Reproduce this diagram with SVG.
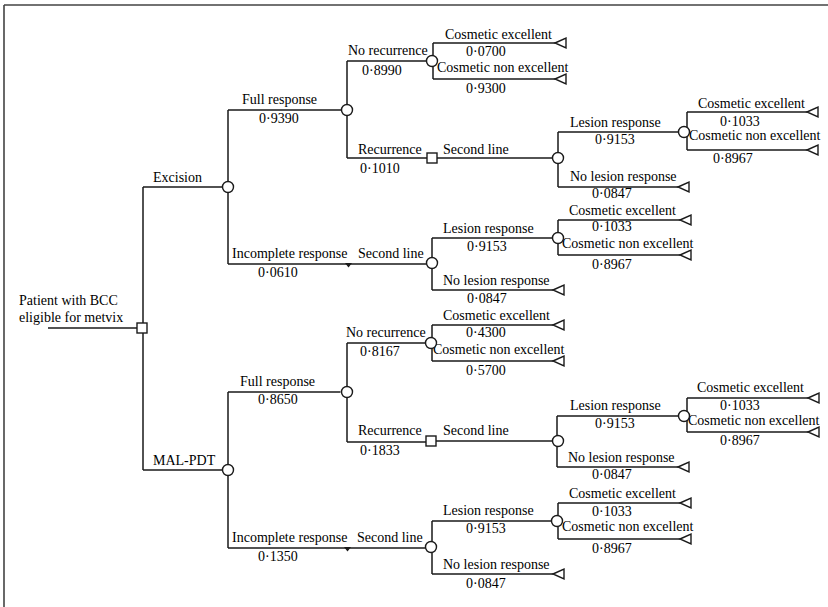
<svg xmlns="http://www.w3.org/2000/svg" width="828" height="607" viewBox="0 0 828 607">
<style>
  text { font-family: "Liberation Serif", "Times New Roman", serif; font-size: 14px; fill: #000; }
  .ln { fill: none; stroke: #1a1a1a; stroke-width: 1.5; }
  .chance { fill: #fff; stroke: #1a1a1a; stroke-width: 1.4; }
  .dec { fill: #fff; stroke: #1a1a1a; stroke-width: 1.4; }
  .term { fill: #fff; stroke: #1a1a1a; stroke-width: 1.4; stroke-linejoin: miter; }
  .frame { fill: none; stroke: #444; stroke-width: 1.6; }
</style>
<defs>
  <polygon id="tri" class="term" points="0,0 11,-5 11,5"/>
  <circle id="cir" class="chance" r="5.5"/>
</defs>
<rect width="828" height="607" fill="#fff"/>
<path class="frame" d="M4,5 H828 M4,5 V607"/>

<g id="connectors">
  <path class="ln" d="M48,328 H137"/>
  <path class="ln" d="M143,187 V470 M143,187 H222.5 M143,470 H222.5"/>
  <!-- Excision -->
  <path class="ln" d="M228,110 V264 M228,110 H341.5 M228,264 H426.5"/>
  <path class="ln" d="M347,61 V158 M347,61 H426.5 M347,158 H427"/>
  <path class="ln" d="M433,43 V79 M433,43 H555 M433,79 H555"/>
  <path class="ln" d="M437,158 H552.5"/>
  <path class="ln" d="M558,132 V187 M558,132 H678.5 M558,187 H678"/>
  <path class="ln" d="M687,112 V150 M687,112 H807 M687,150 H807"/>
  <path class="ln" d="M432,238 V290 M432,238 H552.5 M432,290 H553"/>
  <path class="ln" d="M558,220 V255 M558,220 H680 M558,255 H680"/>
  <polygon points="345,263 352,263 348.5,267.5" fill="#1a1a1a"/>
  <!-- MAL-PDT -->
  <path class="ln" d="M228,392 V548 M228,392 H340.5 M228,548 H425.5"/>
  <path class="ln" d="M347,343 V442 M347,343 H425.5 M347,442 H426"/>
  <path class="ln" d="M432,325 V361 M432,325 H553 M432,361 H553"/>
  <path class="ln" d="M436,441 H552.5"/>
  <path class="ln" d="M557,416 V467 M557,416 H678.5 M557,467 H678"/>
  <path class="ln" d="M687,398 V432 M687,398 H808 M687,432 H808"/>
  <path class="ln" d="M432,521 V574 M432,521 H551.5 M432,574 H553"/>
  <path class="ln" d="M558,503 V539 M558,503 H680 M558,539 H680"/>
  <polygon points="344,547 351,547 347.5,551.5" fill="#1a1a1a"/>
</g>

<g id="labels">
  <text x="19" y="305">Patient with BCC</text>
  <text x="19" y="322">eligible for metvix</text>
  <text x="153" y="182">Excision</text>
  <text x="153" y="465">MAL-PDT</text>

  <text x="242" y="104">Full response</text>
  <text x="259" y="123">0·9390</text>
  <text x="232" y="258">Incomplete response</text>
  <text x="258" y="277">0·0610</text>
  <text x="358" y="258">Second line</text>

  <text x="348" y="55">No recurrence</text>
  <text x="362" y="75">0·8990</text>
  <text x="358" y="154">Recurrence</text>
  <text x="360" y="173">0·1010</text>

  <text x="445" y="39">Cosmetic excellent</text>
  <text x="466" y="56">0·0700</text>
  <text x="437" y="72">Cosmetic non excellent</text>
  <text x="466" y="93">0·9300</text>

  <text x="443" y="154">Second line</text>
  <text x="570" y="127">Lesion response</text>
  <text x="595" y="144">0·9153</text>
  <text x="570" y="181">No lesion response</text>
  <text x="592" y="198">0·0847</text>

  <text x="698" y="108">Cosmetic excellent</text>
  <text x="720" y="126">0·1033</text>
  <text x="689" y="140">Cosmetic non excellent</text>
  <text x="713" y="163">0·8967</text>

  <text x="443" y="233">Lesion response</text>
  <text x="467" y="251">0·9153</text>
  <text x="443" y="285">No lesion response</text>
  <text x="467" y="303">0·0847</text>

  <text x="569" y="215">Cosmetic excellent</text>
  <text x="592" y="231">0·1033</text>
  <text x="562" y="248">Cosmetic non excellent</text>
  <text x="592" y="269">0·8967</text>

  <text x="240" y="386">Full response</text>
  <text x="258" y="404">0·8650</text>
  <text x="232" y="542">Incomplete response</text>
  <text x="258" y="561">0·1350</text>
  <text x="357" y="542">Second line</text>

  <text x="346" y="337">No recurrence</text>
  <text x="360" y="356">0·8167</text>
  <text x="358" y="435">Recurrence</text>
  <text x="360" y="455">0·1833</text>

  <text x="443" y="320">Cosmetic excellent</text>
  <text x="466" y="337">0·4300</text>
  <text x="433" y="354">Cosmetic non excellent</text>
  <text x="466" y="375">0·5700</text>

  <text x="443" y="435">Second line</text>
  <text x="570" y="410">Lesion response</text>
  <text x="595" y="428">0·9153</text>
  <text x="568" y="462">No lesion response</text>
  <text x="592" y="479">0·0847</text>

  <text x="697" y="392">Cosmetic excellent</text>
  <text x="720" y="410">0·1033</text>
  <text x="688" y="425">Cosmetic non excellent</text>
  <text x="720" y="445">0·8967</text>

  <text x="443" y="515">Lesion response</text>
  <text x="466" y="533">0·9153</text>
  <text x="443" y="569">No lesion response</text>
  <text x="466" y="588">0·0847</text>

  <text x="569" y="498">Cosmetic excellent</text>
  <text x="592" y="516">0·1033</text>
  <text x="562" y="531">Cosmetic non excellent</text>
  <text x="592" y="553">0·8967</text>
</g>

<g id="root-decision"><rect class="dec" x="137" y="323" width="10" height="10"/></g>

<g id="excision-chance"><use href="#cir" x="228" y="187"/></g>
<g id="exc-full-chance"><use href="#cir" x="347" y="110"/></g>
<g id="exc-norec-chance"><use href="#cir" x="432" y="61"/></g>
<g id="exc-rec-decision"><rect class="dec" x="427" y="153" width="10" height="10"/></g>
<g id="exc-rec-second-chance"><use href="#cir" x="558" y="158"/></g>
<g id="exc-rec-lesion-chance"><use href="#cir" x="684" y="132"/></g>
<g id="exc-inc-second-chance"><use href="#cir" x="432" y="263"/></g>
<g id="exc-inc-lesion-chance"><use href="#cir" x="558" y="238"/></g>

<g id="mal-chance"><use href="#cir" x="228" y="470"/></g>
<g id="mal-full-chance"><use href="#cir" x="347" y="392"/></g>
<g id="mal-norec-chance"><use href="#cir" x="431" y="343"/></g>
<g id="mal-rec-decision"><rect class="dec" x="426" y="436" width="10" height="10"/></g>
<g id="mal-rec-second-chance"><use href="#cir" x="558" y="441"/></g>
<g id="mal-rec-lesion-chance"><use href="#cir" x="684" y="416"/></g>
<g id="mal-inc-second-chance"><use href="#cir" x="431" y="547"/></g>
<g id="mal-inc-lesion-chance"><use href="#cir" x="557" y="521"/></g>

<g id="terminals">
  <g id="t1"><use href="#tri" x="555" y="43"/></g>
  <g id="t2"><use href="#tri" x="555" y="79"/></g>
  <g id="t3"><use href="#tri" x="807" y="112"/></g>
  <g id="t4"><use href="#tri" x="807" y="150"/></g>
  <g id="t5"><use href="#tri" x="678" y="187"/></g>
  <g id="t6"><use href="#tri" x="680" y="220"/></g>
  <g id="t7"><use href="#tri" x="680" y="255"/></g>
  <g id="t8"><use href="#tri" x="553" y="290"/></g>
  <g id="t9"><use href="#tri" x="553" y="325"/></g>
  <g id="t10"><use href="#tri" x="553" y="361"/></g>
  <g id="t11"><use href="#tri" x="808" y="398"/></g>
  <g id="t12"><use href="#tri" x="808" y="432"/></g>
  <g id="t13"><use href="#tri" x="678" y="467"/></g>
  <g id="t14"><use href="#tri" x="680" y="503"/></g>
  <g id="t15"><use href="#tri" x="680" y="539"/></g>
  <g id="t16"><use href="#tri" x="553" y="574"/></g>
</g>
</svg>
